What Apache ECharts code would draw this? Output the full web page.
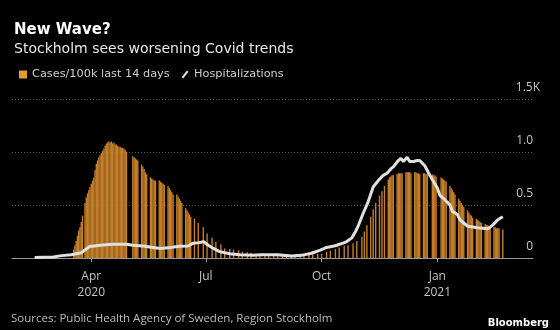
<!DOCTYPE html>
<html>
<head>
<meta charset="utf-8">
<script src="https://cdn.jsdelivr.net/npm/echarts@6/dist/echarts.min.js"></script>
<style>
html,body{margin:0;padding:0;background:#000;}
#c{width:560px;height:330px;}
</style>
</head>
<body>
<div id="c"></div>
<script>
// Daily cases per 100k (last 14 days), starting 2020-03-01, one row per week (Sun..Sat); 0 = not reported
const casesStart = [2020, 2, 1];
const cases = [
  0,0,0,0,0,0,0,
  0,0,0,0,0,0,0,
  0,0,0,80,120,160,210,
  260,290,340,400,0,520,570,
  610,640,670,700,730,760,830,
  890,920,950,970,990,1010,1030,
  1060,1080,1090,1100,1090,1100,1080,
  1090,1070,1070,1060,1050,1050,1040,
  1040,1030,1020,1000,0,0,0,
  0,960,950,940,930,920,0,
  0,880,860,840,810,790,0,
  0,760,750,740,730,730,0,
  0,730,720,710,700,690,0,
  0,680,660,640,620,600,0,
  0,600,580,560,540,520,0,
  0,470,450,430,410,390,0,
  0,370,0,0,330,0,0,
  0,290,0,0,230,0,0,
  0,190,0,0,150,0,0,
  0,130,0,0,90,0,0,
  0,85,0,0,80,0,0,
  0,75,0,0,60,0,0,
  0,55,0,0,50,0,0,
  0,35,0,0,30,0,0,
  0,25,0,0,25,0,0,
  0,20,0,0,20,0,0,
  0,20,0,0,20,0,0,
  0,25,0,0,25,0,0,
  0,30,0,0,30,0,0,
  0,35,0,0,35,0,0,
  0,40,0,0,40,0,0,
  0,60,0,0,70,0,0,
  0,85,0,0,100,0,0,
  0,115,0,0,120,0,0,
  0,140,0,0,160,0,0,
  0,200,0,250,0,310,0,
  0,390,0,460,0,520,0,
  0,590,0,630,0,680,0,
  0,740,760,770,780,780,0,
  0,790,800,800,800,800,0,
  0,810,810,810,810,800,0,
  0,810,810,800,800,790,0,
  0,800,800,790,790,0,0,
  0,790,780,780,770,0,0,
  0,760,750,740,730,720,0,
  0,680,660,640,620,600,0,
  0,560,540,520,500,480,0,
  0,450,430,410,400,380,0,
  0,370,360,350,340,330,0,
  0,320,310,310,300,300,0,
  0,290,290,280,280,280,0,
  0,270
];

// Hospitalizations
const hospDates = [
  '2020-02-16','2020-03-02','2020-03-07','2020-03-16','2020-03-24','2020-03-25','2020-03-28','2020-03-31',
  '2020-04-02','2020-04-08','2020-04-18','2020-04-29','2020-05-04','2020-05-12','2020-05-20','2020-05-26',
  '2020-06-03','2020-06-10','2020-06-17','2020-06-21','2020-06-26','2020-06-29','2020-07-03','2020-07-07',
  '2020-07-12','2020-07-20','2020-07-28','2020-08-07','2020-08-14','2020-08-27','2020-09-07','2020-09-15',
  '2020-09-23','2020-09-30','2020-10-05','2020-10-10','2020-10-13','2020-10-18','2020-10-21','2020-10-25',
  '2020-10-28','2020-10-30','2020-11-03','2020-11-07','2020-11-11','2020-11-15','2020-11-19','2020-11-22',
  '2020-11-25','2020-11-27','2020-12-01','2020-12-03','2020-12-05','2020-12-06','2020-12-08','2020-12-10',
  '2020-12-13','2020-12-16','2020-12-18','2020-12-22','2020-12-26','2020-12-29','2021-01-01','2021-01-03',
  '2021-01-07','2021-01-11','2021-01-13','2021-01-17','2021-01-19','2021-01-22','2021-01-25','2021-02-02',
  '2021-02-10','2021-02-14','2021-02-18','2021-02-22'
];
const hospValues = [
  5,10,20,30,50,60,85,110,
  110,120,130,130,120,113,100,90,
  100,110,113,140,145,155,120,90,
  60,40,30,25,30,30,20,25,
  45,75,100,110,120,140,155,190,
  250,300,420,530,670,730,780,800,
  840,860,920,940,910,920,950,910,
  910,920,920,870,780,720,660,590,
  550,500,440,410,360,330,300,285,
  275,310,360,390
];

const tickDates = ['2020-04-01','2020-07-01','2020-10-01','2021-01-01'];
const tickLabels = ['Apr\n2020','Jul','Oct','Jan\n2021'];
const yTickValues = [0, 500, 1000, 1500];
const yTickLabels = ['0', '0.5', '1.0', '{a|1.5K}'];

function ts(s){ const p = s.split('-').map(Number); return Date.UTC(p[0], p[1]-1, p[2]); }

const caseData = cases.map((v, i) => [Date.UTC(casesStart[0], casesStart[1], casesStart[2] + i), v]);
const hospData = hospDates.map((d, i) => [ts(d), hospValues[i]]);
const tickTs = tickDates.map(ts);

const FONT = 'Open Sans';
const HEAD = 'DejaVu Sans';
const chart = echarts.init(document.getElementById('c'), null, {renderer: 'canvas'});
chart.setOption({
  backgroundColor: '#000',
  animation: false,
  textStyle: {fontFamily: FONT},
  title: [
    {
      text: 'New Wave?',
      left: 9, top: 18,
      textStyle: {color: '#fff', fontSize: 15, lineHeight: 15, fontWeight: 'bold', fontFamily: HEAD}
    },
    {
      text: 'Stockholm sees worsening Covid trends',
      left: 9, top: 37,
      textStyle: {color: '#e8e8e8', fontSize: 14, lineHeight: 14, fontWeight: 'normal', fontFamily: HEAD}
    },
    {
      text: 'Sources: Public Health Agency of Sweden, Region Stockholm',
      left: 11, top: 313,
      padding: 0,
      textStyle: {color: '#bdbdbd', fontSize: 11.5, lineHeight: 12, fontWeight: 'normal', fontFamily: FONT}
    },
    {
      text: 'Bloomberg',
      right: 11, top: 318,
      padding: 0,
      textStyle: {color: '#fff', fontSize: 10, lineHeight: 11, fontWeight: 'bold', fontFamily: HEAD}
    }
  ],
  legend: {
    left: 14, top: 64,
    itemWidth: 8, itemHeight: 8, itemGap: 12,
    textStyle: {color: '#d0d0d0', fontSize: 11.3, fontFamily: HEAD},
    data: [
      {name: 'Cases/100k last 14 days', icon: 'rect', itemStyle: {color: '#e39a2f'}},
      {name: 'Hospitalizations', icon: 'path://M0,9 L7,0 L9,1.5 L2,10.5 Z', itemStyle: {color: '#e6e6e6'}}
    ]
  },
  grid: {left: 12, right: 27, top: 99, bottom: 72},
  xAxis: {
    type: 'value',
    min: ts('2020-01-29'), max: ts('2021-03-18'),
    axisLine: {show: true, onZero: false, lineStyle: {color: '#9a9a9a', width: 1}},
    axisTick: {show: true, length: 4, lineStyle: {color: '#9a9a9a'}, customValues: tickTs},
    splitLine: {show: false},
    axisLabel: {
      customValues: tickTs,
      color: '#c4c4c4', fontSize: 12, lineHeight: 16, margin: 11,
      formatter: function (v) { const k = tickTs.indexOf(v); return k >= 0 ? tickLabels[k] : ''; }
    }
  },
  yAxis: {
    type: 'value', position: 'right', min: 0, max: 1500, interval: 500,
    axisLine: {show: false}, axisTick: {show: false},
    splitLine: {show: true, lineStyle: {color: '#5a5a5a', type: [1, 2], width: 1}},
    axisLabel: {
      inside: true, margin: 0, color: '#c4c4c4', fontSize: 12,
      verticalAlign: 'bottom', lineHeight: 12, padding: [0, 0, 5, 0],
      rich: {a: {padding: [0, -7, 0, 0], color: '#c4c4c4', fontSize: 12, lineHeight: 12, fontFamily: FONT}},
      formatter: function (v) { const k = yTickValues.indexOf(v); return k >= 0 ? yTickLabels[k] : ''; }
    }
  },
  series: [
    {
      name: 'Cases/100k last 14 days', type: 'bar', data: caseData,
      barWidth: 1.4, itemStyle: {color: '#c47f2a'}, z: 2
    },
    {
      name: 'Hospitalizations', type: 'line', data: hospData, showSymbol: false, symbol: 'none',
      lineStyle: {color: '#e0e0e0', width: 3}, itemStyle: {color: '#e0e0e0'}, z: 3
    }
  ]
});
</script>
</body>
</html>
